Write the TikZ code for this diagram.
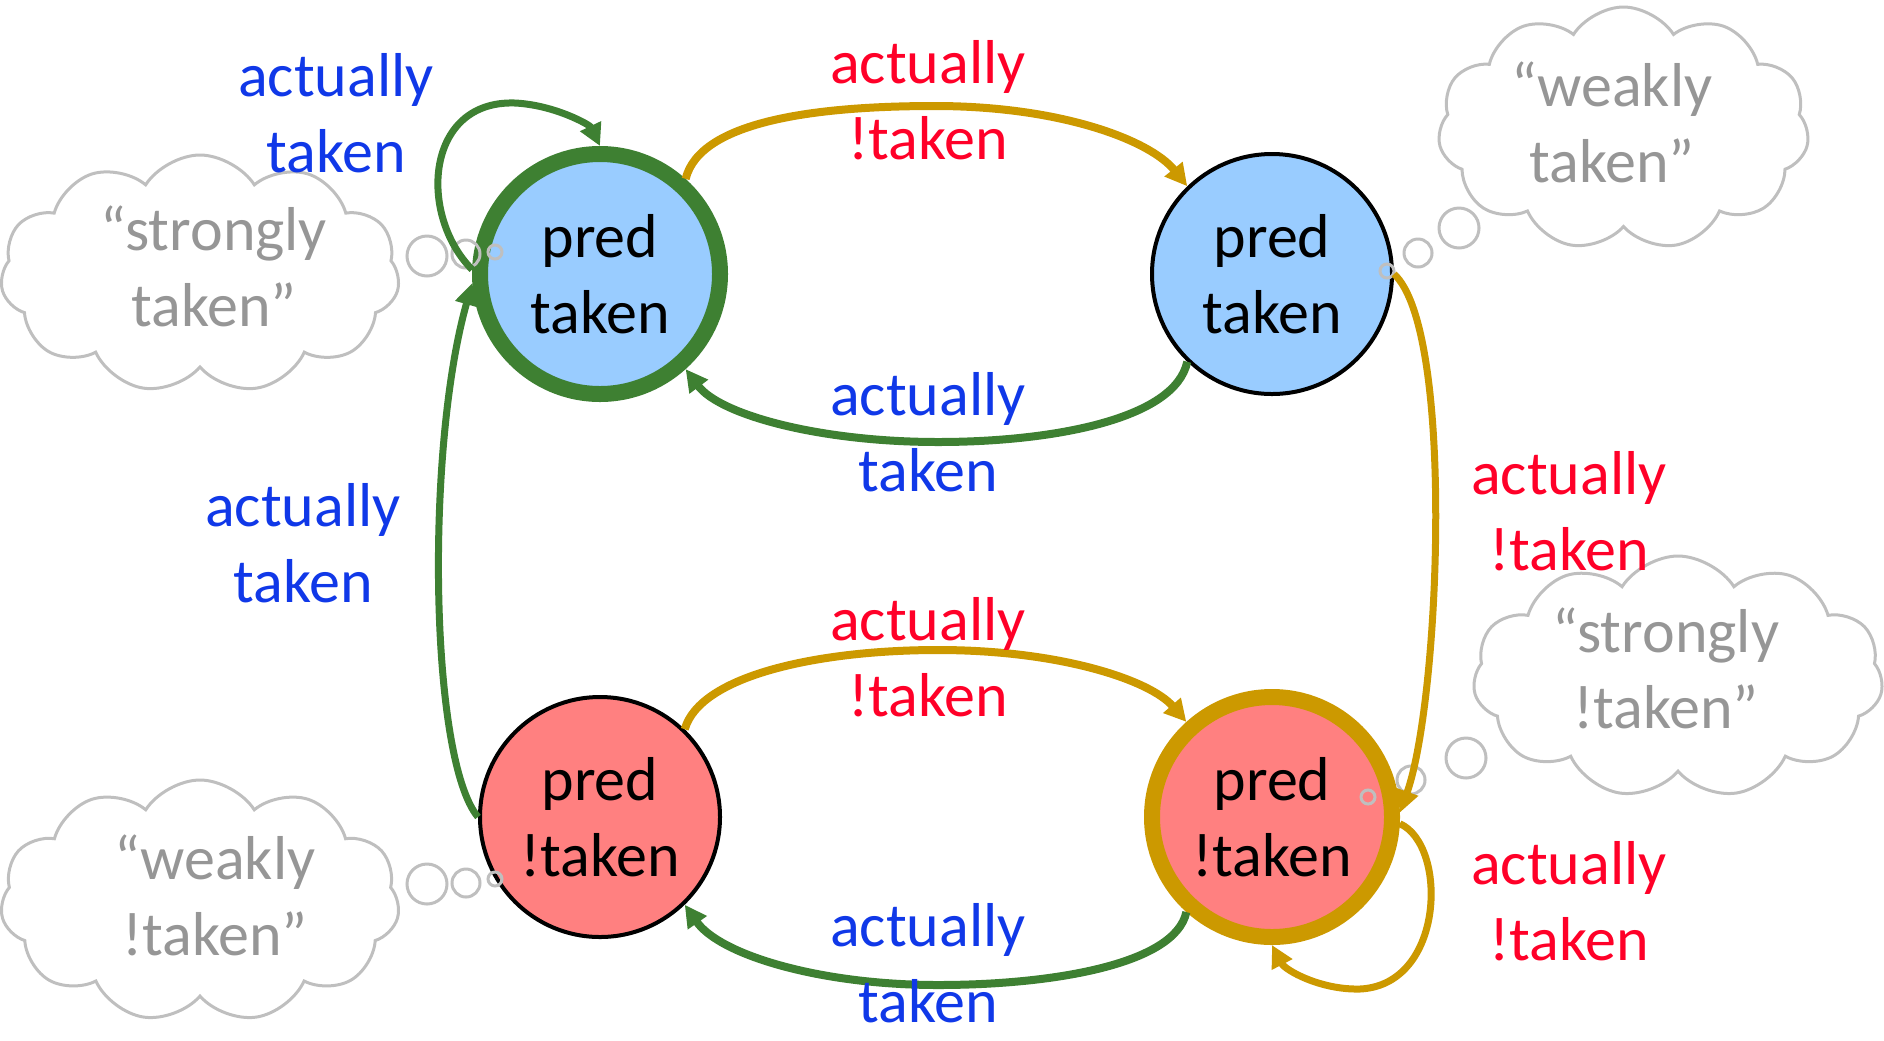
\documentclass[tikz,border=0pt]{standalone}
\usepackage{fontspec}
\setmainfont{Carlito}
\usetikzlibrary{arrows.meta,shapes.symbols}
\definecolor{stgreen}{RGB}{62,128,50}
\definecolor{stgold}{RGB}{204,153,0}
\definecolor{stblue}{RGB}{153,204,255}
\definecolor{stred}{RGB}{255,128,128}
\definecolor{txtblue}{RGB}{16,56,232}
\definecolor{txtred}{RGB}{255,0,40}
\definecolor{txtgray}{RGB}{150,150,150}
\definecolor{cloudgray}{RGB}{191,191,191}
\newcommand{\stfont}{\fontsize{31}{38}\selectfont}
\tikzset{
  state/.style={circle, minimum size=120pt, inner sep=0pt, align=center, font=\stfont, text=black},
  strongst/.style={state, line width=8pt},
  weakst/.style={state, draw=black, line width=2pt},
  lbl/.style={align=center, font=\stfont, inner sep=0pt},
  thought/.style={cloud, draw=cloudgray, line width=1.5pt, cloud puffs=11, cloud puff arc=115, cloud ignores aspect, inner sep=0pt},
  bubble/.style={draw=cloudgray, line width=1.5pt},
  greenarr/.style={draw=stgreen, line width=3.5pt, -{Triangle[length=11pt,width=11pt]}},
  goldarr/.style={draw=stgold, line width=3.5pt, -{Triangle[length=11pt,width=11pt]}},
}
\begin{document}
\begin{tikzpicture}[x=0.5pt,y=-0.5pt]
\useasboundingbox (0,0) rectangle (1884,1040);
% clouds
\node[thought, minimum width=199.5pt, minimum height=119pt] (cTL) at (200,274) {};
\node[thought, minimum width=199.5pt, minimum height=121pt] (cBL) at (200,901) {};
\node[thought, minimum width=185.5pt, minimum height=121.5pt] (cTR) at (1623.5,128.5) {};
\node[thought, minimum width=205pt, minimum height=121pt] (cR) at (1678,677) {};
% states
\node[strongst, draw=stgreen, fill=stblue] (TL) at (600,274) {pred\\taken};
\node[weakst, fill=stblue] (TR) at (1272,274) {pred\\taken};
\node[weakst, fill=stred] (BL) at (600,817) {pred\\!taken};
\node[strongst, draw=stgold, fill=stred] (BR) at (1272,817) {pred\\!taken};
% thought bubbles
\draw[bubble] (427,256) circle[radius=20];
\draw[bubble] (466,254) circle[radius=14];
\draw[bubble] (495,252) circle[radius=7];
\draw[bubble] (427,884) circle[radius=20];
\draw[bubble] (466,883) circle[radius=14];
\draw[bubble] (495,879) circle[radius=7];
\draw[bubble] (1459,228) circle[radius=20];
\draw[bubble] (1418,253) circle[radius=14];
\draw[bubble] (1387,271) circle[radius=7];
\draw[bubble] (1466,758) circle[radius=20];
\draw[bubble] (1411,780) circle[radius=14];
\draw[bubble] (1368,797) circle[radius=7];
% transitions
\draw[greenarr] (TL.178) .. controls (418,215) and (425,100) .. (515,103) .. controls (555,105) and (590,125) .. (TL.90);
\draw[greenarr] (BL.180) .. controls (430,760) and (425,450) .. (TL.184);
\draw[goldarr, line width=4pt] (TL.48) .. controls (700,120) and (820,106) .. (935,106) .. controls (1060,106) and (1150,140) .. (TR.134);
\draw[greenarr, line width=4pt] (TR.226) .. controls (1175,420) and (1050,442) .. (938,442) .. controls (820,442) and (720,415) .. (TL.312);
\draw[goldarr, line width=4pt] (BL.46) .. controls (700,675) and (820,650) .. (938,650) .. controls (1060,650) and (1150,680) .. (BR.132);
\draw[greenarr, line width=4pt] (BR.228) .. controls (1175,965) and (1050,985) .. (938,985) .. controls (820,985) and (720,955) .. (BL.314);
\draw[goldarr] (TR.0) .. controls (1455,330) and (1440,700) .. (BR.2);
\draw[goldarr] (BR.-3) .. controls (1448,845) and (1445,985) .. (1360,989) .. controls (1320,990) and (1285,970) .. (BR.270);
% labels
\node[lbl, text=txtblue] (l1) at (336,113) {actually\\taken};
\node[lbl, text=txtred] (l2) at (928,100) {actually\\!taken};
\node[lbl, text=txtblue] (l3) at (928,432) {actually\\taken};
\node[lbl, text=txtblue] (l4) at (303,543) {actually\\taken};
\node[lbl, text=txtred] (l5) at (1569,511.5) {actually\\!taken};
\node[lbl, text=txtred] (l6) at (928,657) {actually\\!taken};
\node[lbl, text=txtblue] (l7) at (928,963) {actually\\taken};
\node[lbl, text=txtred] (l8) at (1569,901) {actually\\!taken};
% thoughts
\node[lbl, text=txtgray] (t1) at (214,266) {“strongly\\taken”};
\node[lbl, text=txtgray] (t2) at (1612,122) {“weakly\\taken”};
\node[lbl, text=txtgray] (t3) at (1666,668) {“strongly\\!taken”};
\node[lbl, text=txtgray] (t4) at (215,895) {“weakly\\!taken”};
\end{tikzpicture}
\end{document}
